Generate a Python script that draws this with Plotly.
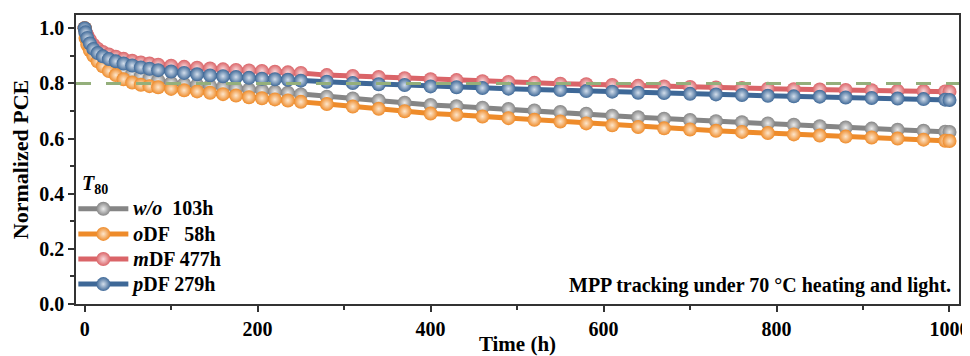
import plotly.graph_objects as go

time_h = [0, 1, 3, 6, 10, 15, 21, 28, 36, 45, 55, 65, 75, 85, 100, 115, 130, 145, 160, 175,
          190, 205, 220, 235, 250, 280, 310, 340, 370, 400, 430, 460, 490, 520, 550, 580,
          610, 640, 670, 700, 730, 760, 790, 820, 850, 880, 910, 940, 970, 995, 1000]

pce_wo = [1.0, 0.98, 0.955, 0.93, 0.91, 0.893, 0.878, 0.866, 0.855, 0.845, 0.835, 0.826, 0.818,
          0.811, 0.802, 0.798, 0.794, 0.79, 0.786, 0.782, 0.778, 0.774, 0.77, 0.766, 0.76,
          0.752, 0.745, 0.738, 0.73, 0.722, 0.717, 0.712, 0.707, 0.702, 0.696, 0.69, 0.683,
          0.677, 0.672, 0.667, 0.663, 0.659, 0.655, 0.65, 0.645, 0.64, 0.636, 0.632, 0.628,
          0.625, 0.624]

pce_odf = [1.0, 0.965, 0.94, 0.92, 0.9, 0.88, 0.862, 0.845, 0.83, 0.815, 0.803, 0.795, 0.79,
           0.786, 0.78, 0.775, 0.771, 0.766, 0.761, 0.756, 0.75, 0.746, 0.742, 0.738, 0.733,
           0.725, 0.716, 0.708, 0.699, 0.691, 0.686, 0.68, 0.674, 0.668, 0.662, 0.655, 0.648,
           0.642, 0.637, 0.633, 0.628, 0.624, 0.62, 0.615, 0.611, 0.607, 0.604, 0.6, 0.596,
           0.592, 0.591]

pce_mdf = [1.0, 0.99, 0.975, 0.958, 0.94, 0.926, 0.914, 0.905, 0.897, 0.889, 0.882, 0.876,
           0.872, 0.868, 0.864, 0.86, 0.857, 0.854, 0.851, 0.849, 0.847, 0.845, 0.842, 0.84,
           0.838, 0.83, 0.827, 0.823, 0.819, 0.815, 0.812, 0.808, 0.805, 0.802, 0.799, 0.797,
           0.794, 0.791, 0.789, 0.787, 0.785, 0.783, 0.781, 0.779, 0.778, 0.776, 0.775, 0.773,
           0.772, 0.771, 0.77]

pce_pdf = [1.0, 0.985, 0.965, 0.945, 0.925, 0.91, 0.898, 0.888, 0.88, 0.872, 0.865, 0.858,
           0.853, 0.848, 0.843, 0.838, 0.833, 0.829, 0.826, 0.823, 0.82, 0.817, 0.815, 0.813,
           0.81, 0.806, 0.801, 0.797, 0.794, 0.789, 0.786, 0.783, 0.781, 0.778, 0.776, 0.772,
           0.77, 0.766, 0.765, 0.762, 0.76, 0.758, 0.755, 0.753, 0.752, 0.749, 0.747, 0.745,
           0.743, 0.741, 0.74]

series_names = ["<i>w/o</i>  103h", "<i>o</i>DF   58h", "<i>m</i>DF 477h", "<i>p</i>DF 279h"]
series_colors = ["#858585", "#EE8B2A", "#DA6468", "#3E6897"]
highlight_colors = ["#ececec", "#fde6cc", "#f9dadc", "#d3deeb"]
legend_ranks = [1, 2, 3, 4]
draw_order = [0, 2, 1, 3]

x_ticks = [0, 200, 400, 600, 800, 1000]
y_ticks = [0.0, 0.2, 0.4, 0.6, 0.8, 1.0]
t80_level = 0.8

data = [pce_wo, pce_odf, pce_mdf, pce_pdf]
FONT = "Liberation Serif"

fig = go.Figure()
for i in draw_order:
    fig.add_trace(go.Scatter(
        x=time_h, y=data[i], mode="lines+markers",
        name=f"<b><span style='font-size:20px'>{series_names[i]}</span></b>",
        legendrank=legend_ranks[i],
        line=dict(color=series_colors[i], width=5),
        marker=dict(size=14, color=series_colors[i], line=dict(width=0),
                    gradient=dict(type="radial", color=highlight_colors[i])),
    ))

fig.add_hline(y=t80_level, line=dict(color="#94AF7B", width=3, dash="15px,15px"), layer="above")

fig.add_annotation(
    x=0.993, y=0.018, xref="paper", yref="paper", xanchor="right", yanchor="bottom",
    text="<b>MPP tracking under 70 °C heating and light.</b>", showarrow=False,
    font=dict(family=FONT, size=20, color="black"),
)

fig.add_annotation(
    x=0.004, y=0.415, xref="paper", yref="paper", xanchor="left", yanchor="middle",
    text="<b><i>T</i><sub>80</sub></b>", showarrow=False,
    font=dict(family=FONT, size=20, color="black"),
)

axis_common = dict(
    showgrid=False, zeroline=False, showline=True, linecolor="#333333", linewidth=1.5,
    mirror=True, ticks="outside", ticklen=6, tickwidth=1.5, tickcolor="#333333",
    tickfont=dict(family=FONT, size=20, color="black"), automargin=False,
)

fig.update_layout(
    width=962, height=348,
    margin=dict(l=68, r=11, t=7, b=52),
    plot_bgcolor="white", paper_bgcolor="white",
    font=dict(family=FONT, color="black"),
    xaxis=dict(
        range=[-10, 1011], tickvals=x_ticks,
        ticktext=[f"<b>{v}</b>" for v in x_ticks],
        minor=dict(ticks="outside", ticklen=4, tickwidth=1.5, tickcolor="#333333", dtick=100, tick0=0),
        title=dict(text="<b>Time (h)</b>", font=dict(family=FONT, size=21), standoff=0),
        **axis_common,
    ),
    yaxis=dict(
        range=[0, 1.048], tickvals=y_ticks,
        ticktext=[f"<b>{v:.1f}</b>" for v in y_ticks],
        minor=dict(ticks="outside", ticklen=4, tickwidth=1.5, tickcolor="#333333", dtick=0.1, tick0=0),
        title=dict(text="<b>Normalized PCE</b>", font=dict(family=FONT, size=22), standoff=9),
        **axis_common,
    ),
    legend=dict(
        x=-0.003, y=0.006, xanchor="left", yanchor="bottom",
        bgcolor="rgba(0,0,0,0)", borderwidth=0,
        font=dict(family=FONT, size=17, color="black"),
        itemwidth=50, tracegroupgap=0,
    ),
    showlegend=True,
)

fig.write_html("out.html")
